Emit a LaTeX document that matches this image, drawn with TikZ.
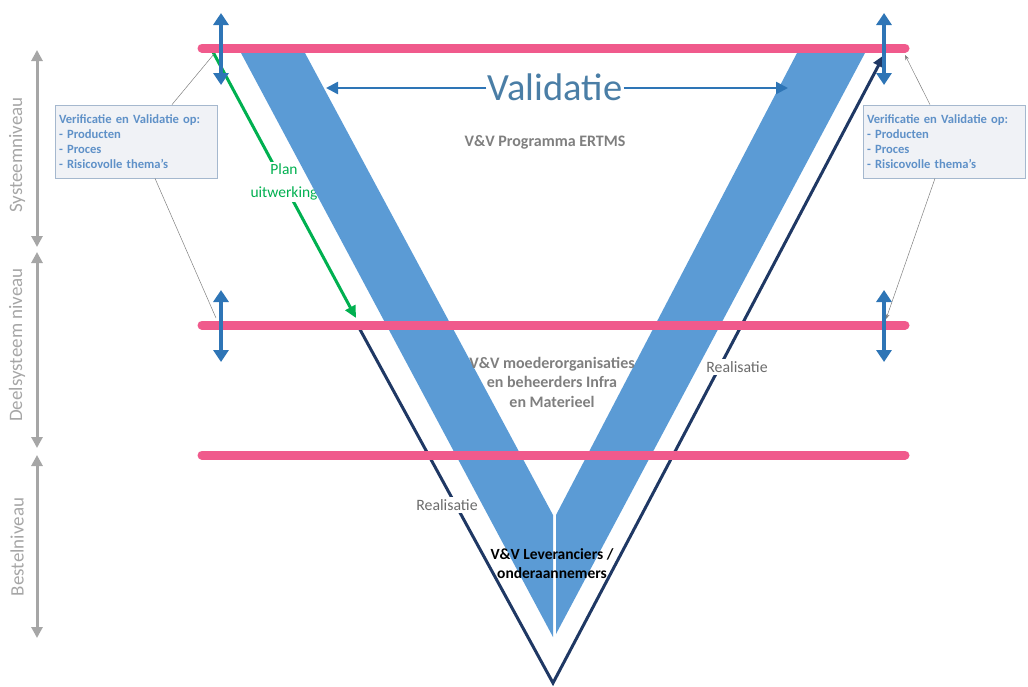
\documentclass[tikz,border=0pt]{standalone}
\usepackage{fontspec}
\setmainfont{Carlito}
\usetikzlibrary{arrows.meta}

\definecolor{pinkbar}{RGB}{240,90,140}
\definecolor{vband}{RGB}{91,155,213}
\definecolor{arrowblue}{RGB}{46,117,182}
\definecolor{navyline}{RGB}{31,56,100}
\definecolor{vgreen}{RGB}{0,176,80}
\definecolor{lvlgray}{RGB}{166,166,166}
\definecolor{txtgray}{RGB}{127,127,127}
\definecolor{valblue}{RGB}{74,126,166}
\definecolor{boxfill}{RGB}{240,242,246}
\definecolor{boxline}{RGB}{165,184,206}
\definecolor{boxtext}{RGB}{95,145,200}

\tikzset{
  levelbar/.style={pinkbar, line width=9pt, line cap=round},
  band/.style={fill=vband, draw=none},
  dblarrow/.style={arrowblue, line width=3.5pt,
    {Triangle[width=15pt,length=12pt]}-{Triangle[width=15pt,length=12pt]}},
  lvlarrow/.style={lvlgray, line width=3pt,
    {Triangle[width=11pt,length=11pt]}-{Triangle[width=11pt,length=11pt]}},
  lvltext/.style={text=lvlgray, rotate=90, font=\fontsize{19}{23}\selectfont},
  realline/.style={navyline, line width=3pt},
  planline/.style={vgreen, line width=3pt},
  vlabel/.style={fill=white, inner sep=1pt, font=\fontsize{15.8}{19}\selectfont},
  infobox/.style={draw=boxline, fill=boxfill, line width=0.8pt,
    minimum width=162pt, minimum height=73pt, text width=154pt, align=left,
    inner sep=4pt, text=boxtext,
    font=\bfseries\fontsize{12.6}{15}\selectfont},
  pointer/.style={gray, line width=0.5pt},
  centertext/.style={align=center, font=\bfseries\fontsize{16}{19.5}\selectfont}
}

\begin{document}
\begin{tikzpicture}[x=1pt, y=-1pt]
  \path[use as bounding box] (0,0) rectangle (1028,686);

  % planning arrow down the left leg
  \coordinate (gs) at (213,52);
  \coordinate (ge) at (356,318);
  \draw[planline, -{Triangle[width=11pt,length=12pt]}] (gs) -- (ge);
  \node[vlabel, text=vgreen, align=center, inner sep=2pt,
        font=\fontsize{15.5}{23}\selectfont] (plan) at (284,182) {Plan\\uitwerking};

  % realisation line
  \coordinate (navyL) at (357,324);
  \coordinate (navyB) at (553,683);
  \coordinate (navyR) at (884,55);
  \draw[realline, -{Triangle[width=11pt,length=12pt]}] (navyL) -- (navyB) -- (navyR);
  \node[vlabel, text=txtgray!85!black, inner sep=2pt] (realL) at (447,505) {Realisatie};
  \node[vlabel, text=txtgray!85!black, inner sep=2pt] (realR) at (737,367) {Realisatie};

  % V shape: two blue bands
  \fill[band] (241,53) -- (305,53) -- (553,515) -- (553,637) -- cycle;
  \fill[band] (556,515) -- (797,53) -- (865,53) -- (556,634) -- cycle;

  % level bars
  \coordinate (t1) at (202,48);  \coordinate (t2) at (905,48);
  \coordinate (m1) at (202,325); \coordinate (m2) at (905,325);
  \coordinate (b1) at (202,455); \coordinate (b2) at (905,455);
  \draw[levelbar] (t1) -- (t2);
  \draw[levelbar] (m1) -- (m2);
  \draw[levelbar] (b1) -- (b2);

  % vertical double arrows on the bars
  \coordinate (a1) at (221,13);  \coordinate (a2) at (221,85);
  \coordinate (a3) at (884,13);  \coordinate (a4) at (884,85);
  \coordinate (a5) at (221,290); \coordinate (a6) at (221,362);
  \coordinate (a7) at (884,290); \coordinate (a8) at (884,362);
  \draw[dblarrow] (a1) -- (a2);
  \draw[dblarrow] (a3) -- (a4);
  \draw[dblarrow] (a5) -- (a6);
  \draw[dblarrow] (a7) -- (a8);

  % validation arrow
  \node[fill=white, inner sep=1pt, text=valblue, font=\fontsize{38.5}{42}\selectfont] (val) at (555,87) {Validatie};
  \coordinate (valL) at (326,88);
  \coordinate (valR) at (788,88);
  \draw[arrowblue, line width=2.5pt, -{Triangle[width=12pt,length=12pt]}] (val.west |- valL) -- (valL);
  \draw[arrowblue, line width=2.5pt, -{Triangle[width=12pt,length=12pt]}] (val.east |- valR) -- (valR);

  % centre texts
  \node[centertext, text=txtgray] (prog) at (545,142) {V\&V Programma ERTMS};
  \node[centertext, text=txtgray] (moeder) at (552,382)
    {V\&V moederorganisaties\\en beheerders Infra\\en Materieel};
  \node[centertext, text=black, font=\bfseries\fontsize{15.5}{19}\selectfont] (lev) at (552,564)
    {V\&V Leveranciers /\\onderaannemers};

  % level indicators on the left
  \coordinate (s1) at (37,50);  \coordinate (s2) at (37,247);
  \coordinate (d1) at (37,252); \coordinate (d2) at (37,448);
  \coordinate (e1) at (37,455); \coordinate (e2) at (37,638);
  \draw[lvlarrow] (s1) -- (s2);
  \draw[lvlarrow] (d1) -- (d2);
  \draw[lvlarrow] (e1) -- (e2);
  \node[lvltext] (sys) at (17,155) {Systeemniveau};
  \node[lvltext] (deel) at (17,345) {Deelsysteem niveau};
  \node[lvltext] (best) at (17,547) {Bestelniveau};

  % V&V info boxes with pointers
  \node[infobox] (boxL) at (136,141.5)
    {Verificatie en Validatie op:\\- Producten\\- Proces\\- Risicovolle thema's};
  \node[infobox] (boxR) at (944,141.5)
    {Verificatie en Validatie op:\\- Producten\\- Proces\\- Risicovolle thema's};
  \coordinate (pL1) at (214,54);
  \coordinate (pL2) at (216,318);
  \coordinate (pR1) at (905,55);
  \coordinate (pR2) at (886,319);
  \draw[pointer] ([xshift=36pt]boxL.north) -- (pL1);
  \draw[pointer] ([xshift=19pt]boxL.south) -- (pL2);
  \draw[pointer, -{Stealth[length=5pt,width=4pt]}] ([xshift=-14pt]boxR.north) -- (pR1);
  \draw[pointer, -{Stealth[length=5pt,width=4pt]}] ([xshift=-9pt]boxR.south) -- (pR2);
\end{tikzpicture}
\end{document}
